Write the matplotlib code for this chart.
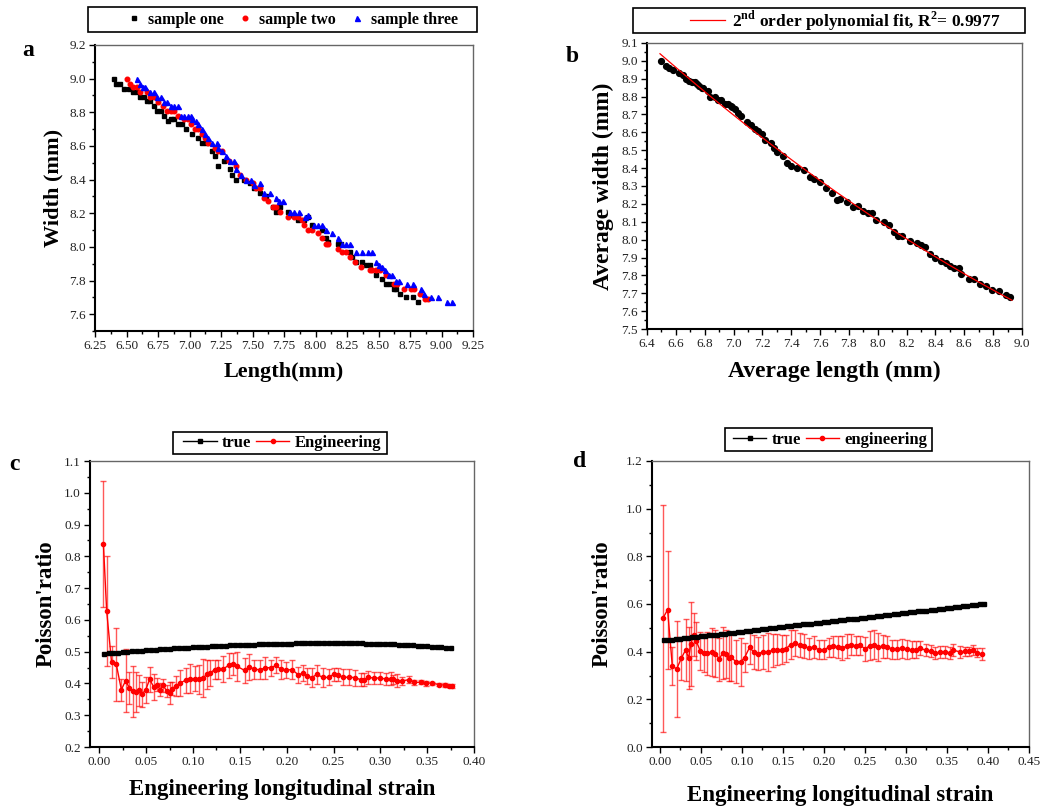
import numpy as np
import matplotlib
matplotlib.use("Agg")
import matplotlib.pyplot as plt
from matplotlib.patches import Rectangle
from matplotlib.ticker import MultipleLocator, FormatStrFormatter

plt.rcParams["font.family"] = "Liberation Serif"
plt.rcParams["mathtext.fontset"] = "custom"
plt.rcParams["mathtext.rm"] = "Liberation Serif"
plt.rcParams["mathtext.bf"] = "Liberation Serif:bold"

# ---------------------------------------------------------------- panel a
a1_len = [6.40, 6.42, 6.45, 6.48, 6.52, 6.55, 6.58, 6.61, 6.64, 6.66, 6.69, 6.72,
          6.74, 6.77, 6.80, 6.83, 6.85, 6.88, 6.91, 6.94, 6.97, 7.02, 7.07, 7.10,
          7.13, 7.18, 7.20, 7.23, 7.27, 7.32, 7.34, 7.37, 7.43, 7.48, 7.51, 7.56,
          7.61, 7.66, 7.69, 7.72, 7.78, 7.80, 7.86, 7.91, 7.94, 7.97, 8.05, 8.08,
          8.10, 8.18, 8.20, 8.27, 8.29, 8.32, 8.37, 8.40, 8.43, 8.48, 8.53, 8.56,
          8.59, 8.62, 8.64, 8.67, 8.72, 8.77, 8.81]
a1_wid = [9.00, 8.97, 8.97, 8.94, 8.94, 8.92, 8.92, 8.89, 8.89, 8.87, 8.87, 8.84,
          8.81, 8.81, 8.78, 8.75, 8.76, 8.76, 8.73, 8.73, 8.70, 8.67, 8.65, 8.62,
          8.62, 8.57, 8.54, 8.48, 8.51, 8.46, 8.43, 8.40, 8.40, 8.38, 8.35, 8.32,
          8.30, 8.24, 8.21, 8.24, 8.21, 8.19, 8.16, 8.16, 8.18, 8.13, 8.10, 8.05,
          8.03, 8.02, 8.02, 7.97, 7.94, 7.91, 7.91, 7.89, 7.89, 7.83, 7.81, 7.78,
          7.78, 7.75, 7.75, 7.72, 7.70, 7.70, 7.67]

a2_len = [6.50, 6.53, 6.55, 6.58, 6.61, 6.66, 6.69, 6.72, 6.75, 6.79, 6.82, 6.85,
          6.88, 6.91, 6.96, 6.99, 7.01, 7.04, 7.07, 7.10, 7.12, 7.15, 7.20, 7.23,
          7.26, 7.31, 7.37, 7.40, 7.45, 7.50, 7.53, 7.56, 7.59, 7.62, 7.66, 7.69,
          7.72, 7.78, 7.83, 7.86, 7.89, 7.91, 7.94, 7.97, 8.02, 8.05, 8.08, 8.10,
          8.18, 8.21, 8.24, 8.27, 8.31, 8.36, 8.43, 8.45, 8.48, 8.51, 8.56, 8.62,
          8.65, 8.70, 8.76, 8.78, 8.83, 8.87, 8.89]
a2_wid = [9.00, 8.97, 8.95, 8.95, 8.92, 8.92, 8.89, 8.89, 8.86, 8.84, 8.81, 8.81,
          8.81, 8.78, 8.76, 8.76, 8.73, 8.70, 8.70, 8.67, 8.65, 8.62, 8.59, 8.57,
          8.57, 8.51, 8.48, 8.43, 8.40, 8.38, 8.35, 8.35, 8.29, 8.27, 8.24, 8.24,
          8.21, 8.18, 8.18, 8.18, 8.16, 8.13, 8.10, 8.10, 8.08, 8.05, 8.02, 8.02,
          7.99, 7.97, 7.97, 7.94, 7.91, 7.88, 7.86, 7.86, 7.86, 7.86, 7.83, 7.78,
          7.78, 7.75, 7.75, 7.75, 7.72, 7.69, 7.69]

a3_len = [6.58, 6.61, 6.63, 6.65, 6.69, 6.72, 6.74, 6.77, 6.80, 6.82, 6.85, 6.88,
          6.91, 6.93, 6.96, 6.99, 7.01, 7.02, 7.05, 7.07, 7.10, 7.12, 7.15, 7.18,
          7.22, 7.23, 7.26, 7.29, 7.32, 7.35, 7.37, 7.41, 7.45, 7.49, 7.51, 7.56,
          7.59, 7.64, 7.69, 7.71, 7.74, 7.80, 7.83, 7.87, 7.92, 7.94, 7.99, 8.02,
          8.05, 8.08, 8.13, 8.18, 8.21, 8.24, 8.27, 8.32, 8.37, 8.42, 8.45, 8.48,
          8.50, 8.53, 8.55, 8.58, 8.61, 8.64, 8.66, 8.73, 8.77, 8.84, 8.86, 8.92,
          8.97, 9.04, 9.08]
a3_wid = [9.00, 8.97, 8.95, 8.95, 8.92, 8.92, 8.89, 8.89, 8.86, 8.86, 8.84, 8.84,
          8.84, 8.78, 8.78, 8.78, 8.78, 8.76, 8.75, 8.73, 8.70, 8.67, 8.65, 8.62,
          8.62, 8.59, 8.57, 8.54, 8.51, 8.51, 8.46, 8.43, 8.40, 8.40, 8.37, 8.38,
          8.32, 8.32, 8.29, 8.27, 8.27, 8.21, 8.21, 8.21, 8.18, 8.19, 8.13, 8.13,
          8.13, 8.10, 8.08, 8.05, 8.02, 8.02, 8.02, 7.97, 7.97, 7.97, 7.97, 7.91,
          7.89, 7.88, 7.86, 7.83, 7.83, 7.80, 7.80, 7.78, 7.78, 7.75, 7.72, 7.70,
          7.70, 7.67, 7.67]

# ---------------------------------------------------------------- panel b
b_len = [6.50, 6.53, 6.55, 6.58, 6.62, 6.65, 6.67, 6.69, 6.71, 6.73, 6.75, 6.76,
         6.78, 6.79, 6.82, 6.84, 6.87, 6.89, 6.91, 6.94, 6.96, 6.98, 6.99, 7.01,
         7.03, 7.05, 7.09, 7.12, 7.15, 7.17, 7.20, 7.22, 7.26, 7.28, 7.30, 7.34,
         7.37, 7.40, 7.44, 7.49, 7.53, 7.56, 7.60, 7.64, 7.68, 7.72, 7.74, 7.79,
         7.83, 7.86, 7.90, 7.93, 7.96, 7.99, 8.04, 8.08, 8.11, 8.14, 8.17, 8.22,
         8.27, 8.30, 8.33, 8.36, 8.40, 8.44, 8.47, 8.50, 8.53, 8.56, 8.58, 8.63,
         8.67, 8.71, 8.75, 8.79, 8.84, 8.89, 8.92]
b_wid = [9.00, 8.97, 8.96, 8.95, 8.93, 8.92, 8.90, 8.89, 8.88, 8.88, 8.87, 8.86,
         8.85, 8.85, 8.83, 8.80, 8.80, 8.78, 8.78, 8.76, 8.76, 8.75, 8.74, 8.73,
         8.71, 8.69, 8.66, 8.64, 8.62, 8.61, 8.59, 8.56, 8.54, 8.51, 8.49, 8.47,
         8.43, 8.41, 8.40, 8.39, 8.35, 8.34, 8.32, 8.29, 8.26, 8.22, 8.23, 8.21,
         8.18, 8.19, 8.16, 8.15, 8.15, 8.11, 8.10, 8.08, 8.04, 8.02, 8.02, 7.99,
         7.98, 7.97, 7.96, 7.92, 7.90, 7.88, 7.87, 7.85, 7.84, 7.84, 7.81, 7.78,
         7.78, 7.75, 7.74, 7.72, 7.71, 7.69, 7.68]

# ---------------------------------------------------------------- panel c
c_true_x = [0.005, 0.010, 0.015, 0.020, 0.025, 0.030, 0.035, 0.040, 0.045, 0.050,
            0.055, 0.060, 0.065, 0.070, 0.075, 0.080, 0.085, 0.090, 0.095, 0.100,
            0.105, 0.110, 0.115, 0.120, 0.125, 0.130, 0.135, 0.140, 0.145, 0.150,
            0.155, 0.160, 0.165, 0.170, 0.175, 0.180, 0.185, 0.190, 0.195, 0.200,
            0.205, 0.210, 0.215, 0.220, 0.225, 0.230, 0.235, 0.240, 0.245, 0.250,
            0.255, 0.260, 0.265, 0.270, 0.275, 0.280, 0.285, 0.290, 0.295, 0.300,
            0.305, 0.310, 0.315, 0.320, 0.325, 0.330, 0.335, 0.340, 0.345, 0.350,
            0.355, 0.360, 0.365, 0.370, 0.375]
c_true_y = [0.494, 0.495, 0.496, 0.497, 0.499, 0.500, 0.501, 0.502, 0.503, 0.504,
            0.505, 0.506, 0.507, 0.508, 0.509, 0.510, 0.511, 0.512, 0.513, 0.514,
            0.515, 0.516, 0.516, 0.517, 0.518, 0.518, 0.519, 0.520, 0.520, 0.521,
            0.521, 0.522, 0.522, 0.523, 0.523, 0.524, 0.524, 0.524, 0.525, 0.525,
            0.525, 0.526, 0.526, 0.526, 0.526, 0.527, 0.527, 0.527, 0.527, 0.527,
            0.527, 0.527, 0.526, 0.526, 0.526, 0.526, 0.525, 0.525, 0.525, 0.524,
            0.524, 0.523, 0.523, 0.522, 0.522, 0.521, 0.520, 0.519, 0.518, 0.517,
            0.516, 0.515, 0.514, 0.513, 0.512]

c_eng_x = [0.0043, 0.0078, 0.013, 0.018, 0.0235, 0.028, 0.032, 0.0356, 0.0388, 0.042,
           0.0455, 0.0495, 0.0537, 0.058, 0.0615, 0.065, 0.068, 0.072, 0.0755, 0.078,
           0.0815, 0.086, 0.092, 0.097, 0.102, 0.106, 0.111, 0.1145, 0.118, 0.123,
           0.127, 0.132, 0.138, 0.1427, 0.147, 0.155, 0.160, 0.1655, 0.171, 0.177,
           0.1835, 0.189, 0.1935, 0.199, 0.206, 0.2125, 0.2175, 0.222, 0.227, 0.232,
           0.2385, 0.245, 0.250, 0.255, 0.260, 0.267, 0.273, 0.279, 0.283, 0.287,
           0.293, 0.2995, 0.306, 0.311, 0.314, 0.318, 0.3235, 0.3305, 0.336, 0.343,
           0.349, 0.355, 0.363, 0.3695, 0.373, 0.376]
c_eng_y = [0.839, 0.628, 0.467, 0.461, 0.380, 0.409, 0.386, 0.375, 0.373, 0.378,
           0.366, 0.380, 0.413, 0.389, 0.396, 0.380, 0.394, 0.376, 0.369, 0.384,
           0.392, 0.401, 0.410, 0.415, 0.415, 0.413, 0.417, 0.429, 0.433, 0.443,
           0.445, 0.445, 0.457, 0.461, 0.454, 0.441, 0.452, 0.445, 0.443, 0.449,
           0.450, 0.457, 0.445, 0.443, 0.443, 0.427, 0.433, 0.424, 0.418, 0.429,
           0.419, 0.419, 0.429, 0.428, 0.419, 0.420, 0.418, 0.412, 0.412, 0.419,
           0.417, 0.417, 0.414, 0.415, 0.413, 0.409, 0.408, 0.412, 0.403, 0.404,
           0.401, 0.401, 0.396, 0.395, 0.392, 0.392]
c_eng_err = [0.198, 0.172, 0.050, 0.115, 0.035, 0.100, 0.050, 0.080, 0.062, 0.050,
             0.040, 0.040, 0.040, 0.040, 0.020, 0.020, 0.020, 0.020, 0.035, 0.020,
             0.030, 0.040, 0.040, 0.045, 0.040, 0.045, 0.060, 0.045, 0.040, 0.030,
             0.030, 0.040, 0.040, 0.035, 0.045, 0.040, 0.040, 0.030, 0.030, 0.035,
             0.025, 0.025, 0.030, 0.025, 0.030, 0.025, 0.025, 0.025, 0.030, 0.030,
             0.030, 0.025, 0.020, 0.020, 0.025, 0.025, 0.025, 0.020, 0.020, 0.020,
             0.020, 0.020, 0.020, 0.020, 0.015, 0.020, 0.012, 0.010, 0.008, 0.006,
             0.008, 0.005, 0.004, 0.005, 0.004, 0.005]

# ---------------------------------------------------------------- panel d
d_true_x = [0.005, 0.010, 0.015, 0.020, 0.025, 0.030, 0.035, 0.040, 0.045, 0.050,
            0.055, 0.060, 0.065, 0.070, 0.075, 0.080, 0.085, 0.090, 0.095, 0.100,
            0.105, 0.110, 0.115, 0.120, 0.125, 0.130, 0.135, 0.140, 0.145, 0.150,
            0.155, 0.160, 0.165, 0.170, 0.175, 0.180, 0.185, 0.190, 0.195, 0.200,
            0.205, 0.210, 0.215, 0.220, 0.225, 0.230, 0.235, 0.240, 0.245, 0.250,
            0.255, 0.260, 0.265, 0.270, 0.275, 0.280, 0.285, 0.290, 0.295, 0.300,
            0.305, 0.310, 0.315, 0.320, 0.325, 0.330, 0.335, 0.340, 0.345, 0.350,
            0.355, 0.360, 0.365, 0.370, 0.375, 0.380, 0.385, 0.390, 0.395]
d_true_y = [0.447, 0.449, 0.451, 0.453, 0.455, 0.457, 0.459, 0.461, 0.463, 0.465,
            0.467, 0.469, 0.471, 0.472, 0.474, 0.476, 0.478, 0.480, 0.482, 0.484,
            0.486, 0.488, 0.490, 0.492, 0.494, 0.496, 0.498, 0.500, 0.502, 0.504,
            0.506, 0.508, 0.510, 0.512, 0.514, 0.516, 0.518, 0.520, 0.521, 0.523,
            0.525, 0.527, 0.529, 0.531, 0.533, 0.535, 0.537, 0.539, 0.541, 0.543,
            0.545, 0.547, 0.549, 0.551, 0.553, 0.555, 0.557, 0.559, 0.561, 0.563,
            0.565, 0.567, 0.569, 0.570, 0.572, 0.574, 0.576, 0.578, 0.580, 0.582,
            0.584, 0.586, 0.588, 0.590, 0.592, 0.594, 0.596, 0.598, 0.600]

d_eng_x = [0.004, 0.0097, 0.0154, 0.0207, 0.0264, 0.0317, 0.0353, 0.038, 0.0414, 0.0446,
           0.0495, 0.054, 0.058, 0.064, 0.068, 0.0726, 0.0767, 0.081, 0.084, 0.087,
           0.093, 0.0986, 0.1035, 0.1096, 0.1144, 0.120, 0.126, 0.132, 0.1376, 0.143,
           0.149, 0.154, 0.1595, 0.1644, 0.1705, 0.176, 0.1818, 0.1875, 0.194, 0.200,
           0.2058, 0.2115, 0.217, 0.2224, 0.228, 0.2334, 0.239, 0.2447, 0.2504, 0.2557,
           0.2614, 0.2666, 0.2723, 0.2776, 0.283, 0.289, 0.295, 0.301, 0.307, 0.3125,
           0.3174, 0.324, 0.330, 0.3356, 0.3417, 0.3478, 0.354, 0.358, 0.366, 0.372,
           0.377, 0.3815, 0.387, 0.3925]
d_eng_y = [0.540, 0.576, 0.341, 0.327, 0.372, 0.408, 0.373, 0.432, 0.471, 0.445,
           0.403, 0.394, 0.394, 0.399, 0.392, 0.369, 0.394, 0.389, 0.375, 0.378,
           0.357, 0.357, 0.375, 0.418, 0.399, 0.392, 0.399, 0.399, 0.406, 0.408,
           0.408, 0.413, 0.429, 0.436, 0.427, 0.424, 0.414, 0.420, 0.408, 0.408,
           0.418, 0.422, 0.420, 0.415, 0.424, 0.429, 0.424, 0.427, 0.411, 0.425,
           0.429, 0.420, 0.422, 0.420, 0.411, 0.411, 0.415, 0.410, 0.408, 0.408,
           0.415, 0.406, 0.401, 0.394, 0.397, 0.399, 0.394, 0.406, 0.399, 0.401,
           0.401, 0.406, 0.396, 0.389]
d_eng_err = [0.475, 0.247, 0.080, 0.200, 0.090, 0.130, 0.130, 0.175, 0.090, 0.080,
             0.080, 0.080, 0.090, 0.100, 0.100, 0.090, 0.110, 0.100, 0.100, 0.100,
             0.090, 0.100, 0.060, 0.070, 0.070, 0.070, 0.070, 0.080, 0.070, 0.065,
             0.060, 0.055, 0.060, 0.055, 0.050, 0.050, 0.045, 0.045, 0.040, 0.040,
             0.040, 0.045, 0.045, 0.050, 0.050, 0.045, 0.040, 0.040, 0.050, 0.060,
             0.060, 0.060, 0.050, 0.045, 0.040, 0.040, 0.040, 0.040, 0.035, 0.035,
             0.030, 0.025, 0.025, 0.025, 0.025, 0.025, 0.025, 0.025, 0.025, 0.020,
             0.020, 0.020, 0.020, 0.025]

W, H = 1053, 807


def px_box(left, top, right, bottom):
    """pixel box (top-left origin) -> figure fraction rect"""
    return [left / W, 1 - bottom / H, (right - left) / W, (bottom - top) / H]


def style_axes(ax, xmaj, xmin, ymaj, ymin, xfmt, yfmt):
    ax.xaxis.set_major_locator(MultipleLocator(xmaj))
    ax.xaxis.set_minor_locator(MultipleLocator(xmin))
    ax.yaxis.set_major_locator(MultipleLocator(ymaj))
    ax.yaxis.set_minor_locator(MultipleLocator(ymin))
    ax.xaxis.set_major_formatter(FormatStrFormatter(xfmt))
    ax.yaxis.set_major_formatter(FormatStrFormatter(yfmt))
    ax.tick_params(which="both", direction="out", top=False, right=False,
                   width=1.0, colors="black", labelsize=9.5, labelcolor="#222222")
    ax.tick_params(which="major", length=4.5, pad=2)
    ax.tick_params(which="minor", length=2.5)
    for s in ("left", "bottom"):
        ax.spines[s].set_linewidth(1.5)
        ax.spines[s].set_color("black")
    for s in ("top", "right"):
        ax.spines[s].set_linewidth(1.0)
        ax.spines[s].set_color("#666666")


def legend_box(fig, left, top, right, bottom):
    fig.add_artist(Rectangle((left / W, 1 - bottom / H), (right - left) / W,
                             (bottom - top) / H, transform=fig.transFigure,
                             fill=False, edgecolor="black", linewidth=1.2))


bold = dict(fontweight="bold")
leg_font = {"size": 12, "weight": "bold"}

fig = plt.figure(figsize=(W / 100, H / 100), dpi=100)
fig.patch.set_facecolor("white")

# ---------------------------------------------------------------- draw a
ax = fig.add_axes(px_box(95, 45, 473, 331))
h1, = ax.plot(a1_len, a1_wid, "s", color="black", ms=3.3, ls="none", label="sample one")
h2, = ax.plot(a2_len, a2_wid, "o", color="red", ms=3.3, ls="none", label="sample two")
h3, = ax.plot(a3_len, a3_wid, "^", color="blue", ms=3.6, ls="none", label="sample three")
ax.set_xlim(6.25, 9.25)
ax.set_ylim(7.5, 9.2)
style_axes(ax, 0.25, 0.125, 0.2, 0.1, "%.2f", "%.1f")
ax.set_xlabel("Length(mm)", fontsize=16, labelpad=7, **bold)
ax.set_ylabel("Width (mm)", fontsize=16, labelpad=4, **bold)
legend_box(fig, 88, 7, 477, 32)
fig.legend(handles=[h1, h2, h3], loc="center", bbox_to_anchor=(293 / W, 1 - 19.5 / H),
           ncol=3, frameon=False, prop={"size": 11.5, "weight": "bold"},
           handlelength=0.8, handletextpad=0.5, columnspacing=0.9, borderpad=0.1)
fig.text(28 / W, 1 - 50 / H, "a", fontsize=17, ha="center", va="center", **bold)

# ---------------------------------------------------------------- draw b
ax = fig.add_axes(px_box(647, 43, 1022, 329))
ax.plot(b_len, b_wid, "o", color="black", ms=4.2, ls="none", zorder=2)
coef = np.polyfit(b_len, b_wid, 2)
fx = np.linspace(min(b_len) - 0.01, max(b_len) + 0.01, 200)
hf, = ax.plot(fx, np.polyval(coef, fx), color="red", lw=0.9, zorder=3,
              label=r"2$^{\mathbf{nd}}$ order polynomial fit, R$^{\mathbf{2}}$= 0.9977")
ax.set_xlim(6.4, 9.0)
ax.set_ylim(7.5, 9.1)
style_axes(ax, 0.2, 0.1, 0.1, 0.05, "%.1f", "%.1f")
ax.set_xlabel("Average length (mm)", fontsize=17, labelpad=8, **bold)
ax.set_ylabel("Average width (mm)", fontsize=17, labelpad=5, **bold)
legend_box(fig, 633, 8, 1025, 33)
fig.legend(handles=[hf], loc="center", bbox_to_anchor=(845 / W, 1 - 20.5 / H),
           frameon=False, prop={"size": 12.5, "weight": "bold"}, handlelength=2.0,
           handletextpad=0.4, borderpad=0.1)
fig.text(572 / W, 1 - 57 / H, "b", fontsize=17, ha="center", va="center", **bold)

# ---------------------------------------------------------------- draw c
ax = fig.add_axes(px_box(90, 461, 474, 747))
ht, = ax.plot(c_true_x, c_true_y, "-s", color="black", ms=2.6, lw=1.0, zorder=4,
              label="true")
he = ax.errorbar(c_eng_x, c_eng_y, yerr=c_eng_err, fmt="-o", color="red", ms=3.0,
                 lw=1.0, ecolor=(1, 0, 0, 0.65), elinewidth=1.0, capsize=2.5,
                 capthick=1.0, zorder=3, label="Engineering")
ax.set_xlim(-0.01, 0.40)
ax.set_ylim(0.2, 1.1)
style_axes(ax, 0.05, 0.025, 0.1, 0.05, "%.2f", "%.1f")
ax.set_xlabel("Engineering longitudinal strain", fontsize=16.5, labelpad=8, **bold)
ax.set_ylabel("Poisson'ratio", fontsize=16.5, labelpad=5, **bold)
legend_box(fig, 173, 432, 387, 454)
fig.legend(handles=[ht, he[0]], labels=["true", "Engineering"], loc="center",
           bbox_to_anchor=(282 / W, 1 - 443 / H), ncol=2, frameon=False,
           prop=leg_font, handlelength=2.0, handletextpad=0.3, columnspacing=0.3,
           borderpad=0.1)
fig.text(14 / W, 1 - 465 / H, "c", fontsize=17, ha="center", va="center", **bold)

# ---------------------------------------------------------------- draw d
ax = fig.add_axes(px_box(652, 461, 1029, 747))
ht, = ax.plot(d_true_x, d_true_y, "-s", color="black", ms=2.6, lw=1.0, zorder=4,
              label="true")
he = ax.errorbar(d_eng_x, d_eng_y, yerr=d_eng_err, fmt="-o", color="red", ms=3.0,
                 lw=1.0, ecolor=(1, 0, 0, 0.65), elinewidth=1.0, capsize=2.5,
                 capthick=1.0, zorder=3, label="engineering")
ax.set_xlim(-0.0093, 0.45)
ax.set_ylim(0.0, 1.2)
style_axes(ax, 0.05, 0.025, 0.2, 0.1, "%.2f", "%.1f")
ax.set_xlabel("Engineering longitudinal strain", fontsize=16.5, labelpad=12, **bold)
ax.set_ylabel("Poisson'ratio", fontsize=16.5, labelpad=10, **bold)
legend_box(fig, 725, 428, 932, 451)
fig.legend(handles=[ht, he[0]], labels=["true", "engineering"], loc="center",
           bbox_to_anchor=(830 / W, 1 - 440 / H), ncol=2, frameon=False,
           prop=leg_font, handlelength=2.0, handletextpad=0.3, columnspacing=0.3,
           borderpad=0.1)
fig.text(580 / W, 1 - 462 / H, "d", fontsize=17, ha="center", va="center", **bold)

fig.savefig("out.png", dpi=100)
